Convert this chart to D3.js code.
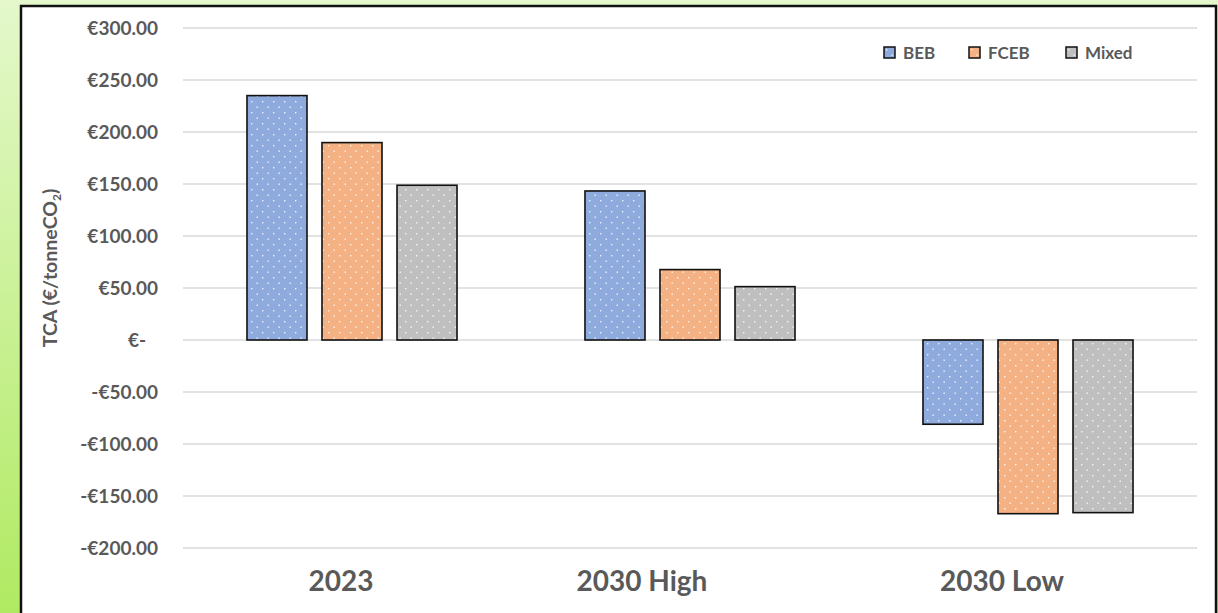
<!DOCTYPE html>
<html>
<head>
<meta charset="utf-8">
<script src="https://cdn.jsdelivr.net/npm/d3@7"></script>
<style>
  html, body { margin: 0; padding: 0; }
  body { width: 1218px; height: 613px; overflow: hidden; }
  svg { display: block; font-family: Lato, "Open Sans", sans-serif; }
</style>
</head>
<body>
<svg id="chart" width="1218" height="613"></svg>
<script>
// Scenarios and bus technologies
const categories = ["2023", "2030 High", "2030 Low"];
const seriesNames = ["BEB", "FCEB", "Mixed"];

// Total cost of abatement (€/tonneCO2) per scenario
const bebValues = [235, 143.3, -81];
const fcebValues = [189.8, 67.7, -167];
const mixedValues = [148.8, 51.3, -166];

const yTicks = [-200, -150, -100, -50, 0, 50, 100, 150, 200, 250, 300];

const seriesColors = ["#8faadc", "#f4b183", "#bfbfbf"];

const seriesValues = [bebValues, fcebValues, mixedValues];
const rows = categories.map((c, i) => ({
  category: c,
  values: seriesNames.map((s, j) => ({ series: s, value: seriesValues[j][i], color: seriesColors[j] }))
}));

const svg = d3.select("#chart");
const W = 1218, H = 613;

// Page background
const defs = svg.append("defs");
const bg = defs.append("linearGradient").attr("id", "bg").attr("x1", 0).attr("y1", 0).attr("x2", 0).attr("y2", 1);
bg.append("stop").attr("offset", "0%").attr("stop-color", "#e4f8cb");
bg.append("stop").attr("offset", "100%").attr("stop-color", "#b0ea62");
svg.append("rect").attr("width", W).attr("height", H).attr("fill", "url(#bg)");

// Dotted fill patterns, one per series colour
seriesColors.forEach((c, i) => {
  const p = defs.append("pattern").attr("id", "dots" + i)
    .attr("patternUnits", "userSpaceOnUse").attr("width", 11).attr("height", 11);
  p.append("rect").attr("width", 11).attr("height", 11).attr("fill", c);
  p.append("rect").attr("x", 2).attr("y", 2).attr("width", 1.4).attr("height", 1.4).attr("fill", "#ffffff").attr("opacity", 0.85);
  p.append("rect").attr("x", 7.5).attr("y", 7.5).attr("width", 1.4).attr("height", 1.4).attr("fill", "#ffffff").attr("opacity", 0.85);
});

// Chart panel
svg.append("rect").attr("x", 21).attr("y", 6).attr("width", 1195).attr("height", 620)
  .attr("fill", "#ffffff").attr("stroke", "#111").attr("stroke-width", 2.5);

const plot = { left: 183, right: 1197, top: 28, bottom: 548 };

const y = d3.scaleLinear().domain([-200, 300]).range([plot.bottom, plot.top]);
const x0 = d3.scaleBand().domain(categories).range([plot.left, plot.right]).padding(0);
const x1 = d3.scaleBand().domain(seriesNames).range([0, x0.bandwidth()])
  .paddingInner(0.2).paddingOuter(0.853);

// Gridlines
svg.append("g").selectAll("line").data(yTicks).join("line")
  .attr("x1", plot.left).attr("x2", plot.right)
  .attr("y1", d => y(d)).attr("y2", d => y(d))
  .attr("stroke", "#d9d9d9").attr("stroke-width", 1.5);

// Y axis labels (accounting style)
const fmt = d => {
  if (d === 0) return "€-";
  const s = "€" + Math.abs(d).toFixed(2);
  return d < 0 ? "-" + s : s;
};
const yAxis = d3.axisLeft(y).tickValues(yTicks).tickFormat(fmt).tickSize(0).tickPadding(0);
const gy = svg.append("g").attr("transform", `translate(158,0)`).call(yAxis);
gy.select(".domain").remove();
gy.selectAll("text")
  .attr("fill", "#595959").attr("font-size", 19).attr("font-weight", 700)
  .attr("font-family", "Lato, sans-serif")
  .attr("dx", d => d === 0 ? -12 : 0);

// Y axis title
const title = svg.append("text")
  .attr("transform", "translate(57,268) rotate(-90)")
  .attr("text-anchor", "middle")
  .attr("fill", "#595959").attr("font-size", 19.5).attr("font-weight", 700);
title.append("tspan").text("TCA (€/tonneCO");
title.append("tspan").attr("font-size", 12).attr("dy", 4).text("2");
title.append("tspan").attr("dy", -4).text(")");

// Bars
const groups = svg.append("g").selectAll("g").data(rows).join("g")
  .attr("transform", d => `translate(${x0(d.category)},0)`);
groups.selectAll("rect").data(d => d.values).join("rect")
  .attr("x", d => x1(d.series))
  .attr("width", x1.bandwidth())
  .attr("y", d => y(Math.max(0, d.value)))
  .attr("height", d => Math.abs(y(d.value) - y(0)))
  .attr("fill", (d, i) => `url(#dots${i})`)
  .attr("stroke", "#111").attr("stroke-width", 1.6);

// Category labels (hand-nudged text boxes)
const labelShift = [-11, -48, -26];
const xAxis = d3.axisBottom(x0).tickSize(0).tickPadding(0);
const gx = svg.append("g").attr("transform", `translate(0,591)`).call(xAxis);
gx.select(".domain").remove();
gx.selectAll("text")
  .attr("dy", 0)
  .attr("dx", (d, i) => labelShift[i])
  .attr("fill", "#595959").attr("font-size", 28).attr("font-weight", 700)
  .attr("font-family", "Lato, sans-serif");

// Legend
const legendX = [884, 969, 1066];
const legend = svg.append("g").selectAll("g").data(seriesNames).join("g")
  .attr("transform", (d, i) => `translate(${legendX[i]},47)`);
legend.append("rect").attr("width", 11).attr("height", 11)
  .attr("fill", (d, i) => `url(#dots${i})`).attr("stroke", "#111").attr("stroke-width", 1.5);
legend.append("text").attr("x", 19).attr("y", 11.5)
  .attr("fill", "#595959").attr("font-size", 17).attr("font-weight", 700)
  .text(d => d);
</script>
</body>
</html>
